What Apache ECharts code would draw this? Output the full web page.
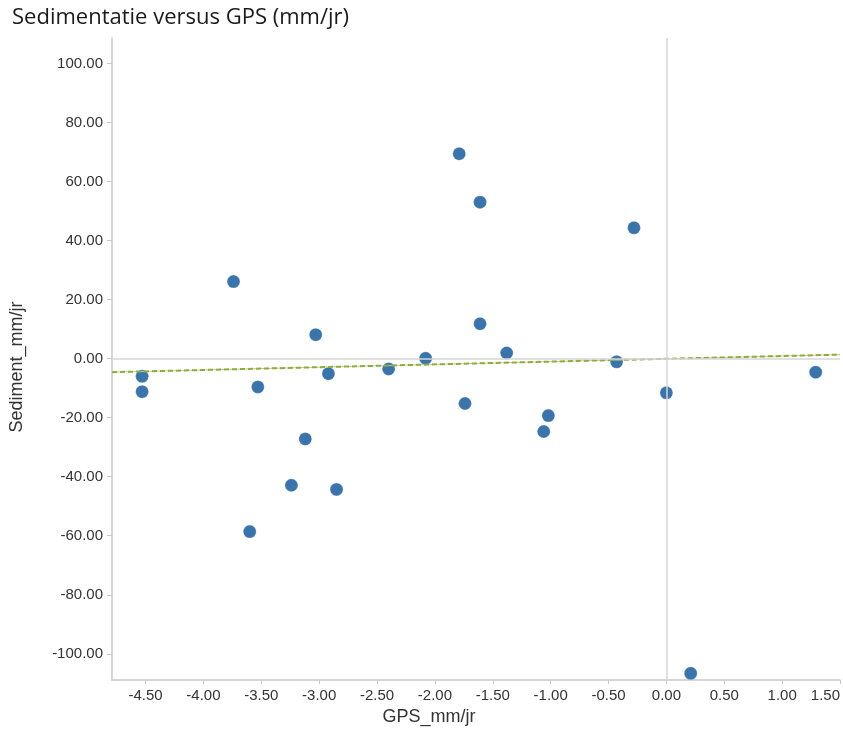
<!DOCTYPE html>
<html>
<head>
<meta charset="utf-8">
<title>Sedimentatie versus GPS</title>
<script src="https://cdn.jsdelivr.net/npm/echarts@6/dist/echarts.min.js"></script>
<style>
  html, body { margin: 0; padding: 0; background: #fff; }
  #chart { width: 843px; height: 731px; }
</style>
</head>
<body>
<div id="chart"></div>
<script>
// GPS (mm/jr) and sedimentation (mm/jr) per station
var gpsValues = [-4.53, -4.53, -3.74, -3.53, -3.60, -3.24, -3.12, -3.03, -2.92, -2.85,
                 -2.40, -2.08, -1.79, -1.74, -1.61, -1.61, -1.38, -1.06, -1.02, -0.43,
                 -0.28, 0.00, 0.21, 1.29];
var sedimentValues = [-6.0, -11.2, 26.1, -9.6, -58.6, -42.9, -27.2, 8.1, -5.1, -44.3,
                      -3.5, 0.1, 69.4, -15.2, 53.0, 11.8, 1.9, -24.7, -19.3, -1.1,
                      44.3, -11.6, -106.6, -4.6];

// trend line end points
var trendX = [-4.79, 1.5];
var trendY = [-4.6, 1.35];

var xTickValues = [-4.5, -4, -3.5, -3, -2.5, -2, -1.5, -1, -0.5, 0, 0.5, 1, 1.5];
var yTickValues = [-100, -80, -60, -40, -20, 0, 20, 40, 60, 80, 100];

var points = gpsValues.map(function (x, i) { return [x, sedimentValues[i]]; });
var trend = trendX.map(function (x, i) { return [x, trendY[i]]; });

var chart = echarts.init(document.getElementById('chart'));
chart.setOption({
  animation: false,
  title: {
    text: 'Sedimentatie versus GPS (mm/jr)',
    left: 7,
    top: 2,
    textStyle: { fontFamily: 'Open Sans', fontSize: 22, fontWeight: 'normal', color: '#1a1a1a' }
  },
  grid: { left: 111, right: 0, top: 38, bottom: 50 },
  xAxis: {
    type: 'value',
    min: -4.79,
    max: 1.5,
    name: 'GPS_mm/jr',
    nameLocation: 'middle',
    nameGap: 27,
    nameTextStyle: { fontFamily: 'Liberation Sans', fontSize: 18, color: '#333', padding: [0, 94, 0, 0] },
    axisLine: { show: true, onZero: false, lineStyle: { color: '#c8c8c8', width: 1.5 } },
    axisTick: { show: true, length: 4, customValues: xTickValues, lineStyle: { color: '#c8c8c8' } },
    axisLabel: {
      customValues: xTickValues,
      alignMaxLabel: 'right',
      margin: 8,
      fontFamily: 'Liberation Sans', fontSize: 15, color: '#333',
      formatter: function (v) { return v.toFixed(2); }
    },
    splitLine: { show: false }
  },
  yAxis: {
    type: 'value',
    min: -108.9,
    max: 108.6,
    name: 'Sediment_mm/jr',
    nameLocation: 'middle',
    nameGap: 86,
    nameTextStyle: { fontFamily: 'Liberation Sans', fontSize: 18, color: '#333', padding: [0, 16, 0, 0] },
    axisLine: { show: true, onZero: false, lineStyle: { color: '#c8c8c8', width: 1.5 } },
    axisTick: { show: true, length: 5, customValues: yTickValues, lineStyle: { color: '#c8c8c8' } },
    axisLabel: {
      customValues: yTickValues,
      margin: 9,
      fontFamily: 'Liberation Sans', fontSize: 15, color: '#333',
      formatter: function (v) { return v.toFixed(2); }
    },
    splitLine: { show: false }
  },
  series: [
    {
      name: 'nul',
      type: 'scatter',
      data: [],
      silent: true,
      markLine: {
        silent: true,
        symbol: 'none',
        label: { show: false },
        lineStyle: { color: '#d6d6d6', type: 'solid', width: 1.5 },
        data: [{ xAxis: 0 }, { yAxis: 0 }]
      }
    },
    {
      name: 'trend grijs',
      type: 'line',
      data: trend,
      showSymbol: false,
      silent: true,
      lineStyle: { color: '#c0c4a8', width: 1 }
    },
    {
      name: 'trend',
      type: 'line',
      data: trend,
      showSymbol: false,
      silent: true,
      lineStyle: { color: '#8cb035', width: 2, type: [5, 3] }
    },
    {
      name: 'stations',
      type: 'scatter',
      data: points,
      symbolSize: 13,
      itemStyle: { color: '#3a74ad', opacity: 1, borderColor: 'rgba(255,255,255,0.5)', borderWidth: 0.5 }
    }
  ]
});
</script>
</body>
</html>
